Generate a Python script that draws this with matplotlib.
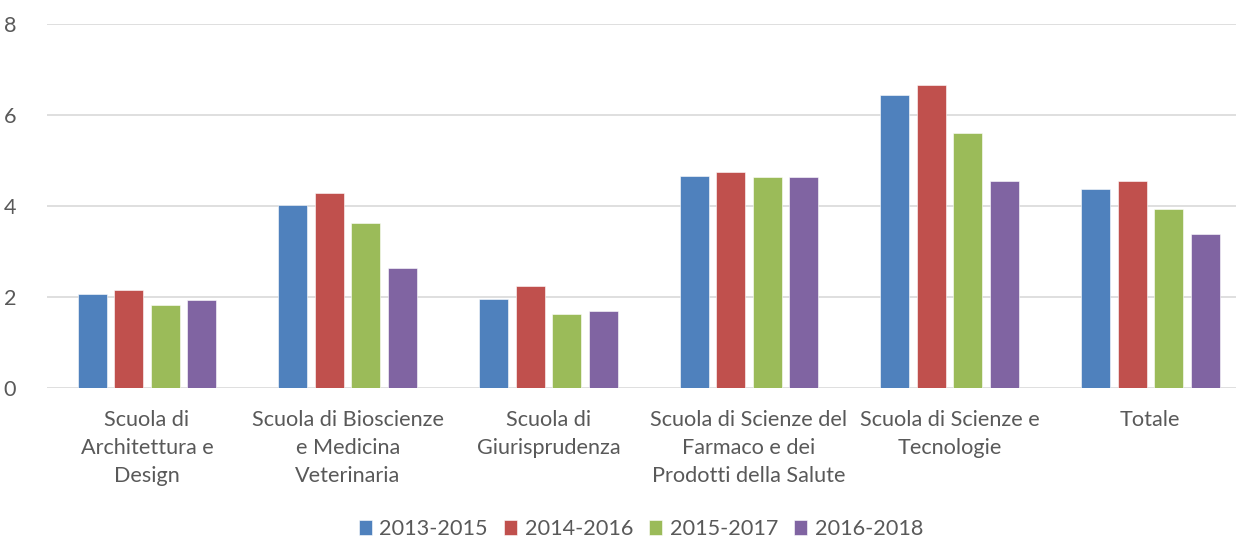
import matplotlib
matplotlib.use("Agg")
import matplotlib.pyplot as plt
import numpy as np

categories = ["Scuola di\nArchitettura e\nDesign",
              "Scuola di Bioscienze\ne Medicina\nVeterinaria",
              "Scuola di\nGiurisprudenza",
              "Scuola di Scienze del\nFarmaco e dei\nProdotti della Salute",
              "Scuola di Scienze e\nTecnologie",
              "Totale"]
series_names = ["2013-2015", "2014-2016", "2015-2017", "2016-2018"]
v_2013_2015 = [2.07, 4.02, 1.96, 4.67, 6.45, 4.37]
v_2014_2016 = [2.15, 4.30, 2.24, 4.75, 6.66, 4.56]
v_2015_2017 = [1.82, 3.64, 1.63, 4.64, 5.62, 3.93]
v_2016_2018 = [1.93, 2.64, 1.69, 4.64, 4.56, 3.38]
series = [v_2013_2015, v_2014_2016, v_2015_2017, v_2016_2018]
colors = ["#4F81BD", "#C0504D", "#9BBB59", "#8064A2"]
yticks = [0, 2, 4, 6, 8]

plt.rcParams['font.family'] = ['Lato', 'DejaVu Sans']
txt = "#595959"
fs = 15.6

fig = plt.figure(figsize=(12.36, 5.38), dpi=100)
ax = fig.add_axes([46.7/1236, 150/538, 1204/1236, (388-24.3)/538])

x = np.arange(len(categories))
w = 0.1445
step = 0.182
for i, (vals, c, name) in enumerate(zip(series, colors, series_names)):
    ax.bar(x + (i - 1.5) * step, vals, width=w, color=c, label=name,
           edgecolor="white", linewidth=0.4, zorder=3)

ax.set_xlim(-0.5, len(categories) - 0.5)
ax.set_ylim(0, 8)
ax.set_yticks(yticks)
ax.set_yticklabels([str(t) for t in yticks], fontsize=fs, color=txt)
ax.set_xticks(x)
ax.set_xticklabels(categories, fontsize=fs, color=txt, linespacing=1.5)
ax.tick_params(axis='both', length=0)
ax.tick_params(axis='y', pad=22)
ax.tick_params(axis='x', pad=16)
ax.yaxis.grid(True, color="#d9d9d9", linewidth=1.2, zorder=0)
ax.set_axisbelow(True)
for s in ax.spines.values():
    s.set_visible(False)

leg = fig.legend(loc="center", bbox_to_anchor=(641/1236, 9/538), ncol=4,
                 frameon=False, fontsize=fs, handlelength=0.6, handleheight=0.75,
                 handletextpad=0.35, columnspacing=0.75, borderpad=0.2)
for t in leg.get_texts():
    t.set_color(txt)

fig.savefig("out.png", dpi=100)
